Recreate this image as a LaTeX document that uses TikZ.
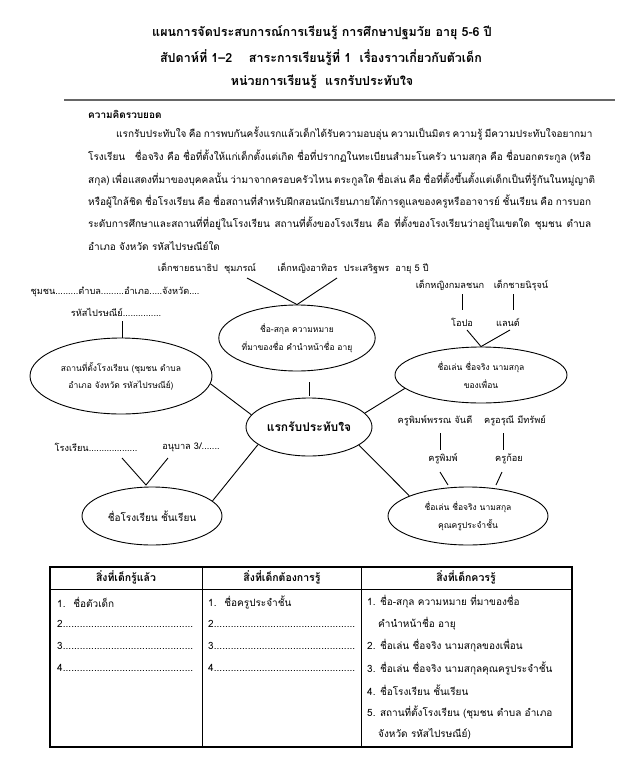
\documentclass[tikz,border=0pt]{standalone}
\usepackage{fontspec}
\setmainfont{Loma}[Script=Thai]
\usepackage{xcolor}
\usetikzlibrary{shapes}

\newcommand{\dotline}[2]{\makebox[#2][l]{#1\xleaders\hbox{.}\hfill}}

\begin{document}
\begin{tikzpicture}[x=1pt,y=-1pt,
  txt/.style={inner sep=0pt,font=\fontsize{10}{12}\selectfont},
  lab/.style={inner sep=0pt,font=\fontsize{9.2}{12}\selectfont},
  ttl/.style={inner sep=0pt,font=\fontsize{12.5}{14}\bfseries},
  bub/.style={draw,ellipse,inner sep=0pt,line width=0.9pt,align=center,
    font=\fontsize{8.5}{18}\selectfont},
  para/.style={txt,anchor=west}]
\useasboundingbox[fill=white] (0,0) rectangle (624,777);

% title
\node[ttl] (t1) at (322,33) {แผนการจัดประสบการณ์การเรียนรู้ การศึกษาปฐมวัย อายุ 5-6 ปี};
\node[ttl] (t2) at (321,58) {สัปดาห์ที่ 1–2 \quad สาระการเรียนรู้ที่ 1 \ เรื่องราวเกี่ยวกับตัวเด็ก};
\node[ttl] (t3) at (322,82) {หน่วยการเรียนรู้ \ แรกรับประทับใจ};
\draw[line width=2pt,black!60] (64,100) -- (615,100);

% concept
\node[para,font=\fontsize{10}{12}\bfseries] (hd) at (88,114) {ความคิดรวบยอด};
\node[para] (p1) at (116,134) {\makebox[472pt][s]{แรกรับประทับใจ คือ การพบกันครั้งแรกแล้วเด็กได้รับความอบอุ่น ความเป็นมิตร ความรู้ มีความประทับใจอยากมา}};
\node[para] (p2) at (88,157) {\makebox[503pt][s]{โรงเรียน \ \ ชื่อจริง คือ ชื่อที่ตั้งให้แก่เด็กตั้งแต่เกิด ชื่อที่ปรากฏในทะเบียนสำมะโนครัว นามสกุล คือ ชื่อบอกตระกูล (หรือ}};
\node[para] (p3) at (88,180) {\makebox[503pt][s]{สกุล) เพื่อแสดงที่มาของบุคคลนั้น ว่ามาจากครอบครัวไหน ตระกูลใด ชื่อเล่น คือ ชื่อที่ตั้งขึ้นตั้งแต่เด็กเป็นที่รู้กันในหมู่ญาติ}};
\node[para] (p4) at (88,202) {\makebox[503pt][s]{หรือผู้ใกล้ชิด ชื่อโรงเรียน คือ ชื่อสถานที่สำหรับฝึกสอนนักเรียนภายใต้การดูแลของครูหรืออาจารย์ ชั้นเรียน คือ การบอก}};
\node[para] (p5) at (88,224) {\makebox[503pt][s]{ระดับการศึกษาและสถานที่ที่อยู่ในโรงเรียน สถานที่ตั้งของโรงเรียน คือ ที่ตั้งของโรงเรียนว่าอยู่ในเขตใด ชุมชน ตำบล}};
\node[para] (p6) at (88,246) {อำเภอ จังหวัด รหัสไปรษณีย์ใด};

% mind map
\node[bub,minimum width=126pt,minimum height=58pt,font=\fontsize{12}{14}\bfseries] (core) at (309,427) {แรกรับประทับใจ};
\node[bub,minimum width=150pt,minimum height=66pt] (name) at (297,338) {ชื่อ-สกุล ความหมาย\\ที่มาของชื่อ คำนำหน้าชื่อ อายุ};
\node[bub,minimum width=182pt,minimum height=76pt,font=\fontsize{8.5}{17}\selectfont] (place) at (121,376) {สถานที่ตั้งโรงเรียน (ชุมชน ตำบล\\อำเภอ จังหวัด รหัสไปรษณีย์)};
\node[bub,minimum width=172pt,minimum height=56pt] (mate) at (481,375) {ชื่อเล่น ชื่อจริง นามสกุล\\ของเพื่อน};
\node[bub,minimum width=140pt,minimum height=58pt,font=\fontsize{10}{12}\selectfont] (school) at (152,516) {ชื่อโรงเรียน ชั้นเรียน};
\node[bub,minimum width=160pt,minimum height=58pt] (teach) at (468,516) {ชื่อเล่น ชื่อจริง นามสกุล\\คุณครูประจำชั้น};

\node[lab] (boy) at (207,268) {เด็กชายธนาธิป \ ชุมภรณ์};
\node[lab] (girl) at (353,268) {เด็กหญิงอาทิอร \ ประเสริฐพร \ อายุ 5 ปี};
\node[lab] (addr) at (115,292) {ชุมชน.........ตำบล.........อำเภอ.....จังหวัด....};
\node[lab] (post) at (116,312) {รหัสไปรษณีย์...............};
\node[lab] (f1) at (450,285) {เด็กหญิงกมลชนก};
\node[lab] (f2) at (521,285) {เด็กชายนิรุจน์};
\node[lab] (n1) at (462,322) {โอปอ};
\node[lab] (n2) at (508,322) {แลนด์};
\node[lab] (sch) at (96,447) {โรงเรียน...................};
\node[lab] (cls) at (191,447) {อนุบาล 3/.......};
\node[lab] (k1) at (435,421) {ครูพิมพ์พรรณ จันดี};
\node[lab] (k2) at (515,421) {ครูอรุณี มีทรัพย์};
\node[lab] (m1) at (443,459) {ครูพิมพ์};
\node[lab] (m2) at (509,459) {ครูก้อย};

% free ends
\coordinate (boy-r) at (247,278);
\coordinate (girl-l) at (337,278);
\coordinate (f1-b) at (462,294);
\coordinate (f2-b) at (513,294);
\coordinate (n1-t) at (462,310);
\coordinate (n2-t) at (513,310);
\coordinate (n1-b) at (467,330);
\coordinate (n2-b) at (510,330);
\coordinate (k1-b) at (440,433);
\coordinate (k2-b) at (503,433);
\coordinate (m1-t) at (440,450);
\coordinate (m2-t) at (503,450);
\coordinate (m1-b) at (440,472);
\coordinate (m2-b) at (502,472);
\coordinate (teach-l) at (448,485);
\coordinate (teach-r) at (496,485);
\coordinate (sch-b) at (122,458);
\coordinate (cls-b) at (168,458);
\coordinate (school-t) at (146,485);
\coordinate (post-b) at (122,321);
\coordinate (place-t) at (122,338);
\coordinate (name-b) at (309,382);

\begin{scope}[line width=0.9pt]
\draw (boy-r) -- (name.north) -- (girl-l);
\draw (name-b) -- ([yshift=2pt]core.north);
\draw (post-b) -- (place-t);
\draw (place.-5) -- (core.168);
\draw (core.199) -- (school.14);
\draw (core.14) -- (mate.190);
\draw (core.-20) -- (teach.161);
\draw (f1-b) -- (n1-t);
\draw (f2-b) -- (n2-t);
\draw (n1-b) -- (mate.north) -- (n2-b);
\draw (k1-b) -- (m1-t);
\draw (k2-b) -- (m2-t);
\draw (m1-b) -- (teach-l);
\draw (m2-b) -- (teach-r);
\draw (sch-b) -- (school-t) -- (cls-b);
\end{scope}

% table
\draw[line width=1.6pt] (50,567) rectangle (572,747);
\draw[line width=0.8pt] (50,589) -- (572,589) (202,567) -- (202,747) (361,567) -- (361,747);
\node[ttl,font=\fontsize{10.5}{12}\bfseries] (h1) at (126,577) {สิ่งที่เด็กรู้แล้ว};
\node[ttl,font=\fontsize{10.5}{12}\bfseries] (h2) at (282,577) {สิ่งที่เด็กต้องการรู้};
\node[ttl,font=\fontsize{10.5}{12}\bfseries] (h3) at (466,577) {สิ่งที่เด็กควรรู้};
\node[para] (a1) at (57,602) {1. \ ชื่อตัวเด็ก};
\node[para] (a2) at (57,624) {\dotline{2}{136pt}};
\node[para] (a3) at (57,646) {\dotline{3}{136pt}};
\node[para] (a4) at (57,668) {\dotline{4}{136pt}};
\node[para] (b1) at (208,602) {1. \ ชื่อครูประจำชั้น};
\node[para] (b2) at (208,624) {\dotline{2}{147pt}};
\node[para] (b3) at (208,646) {\dotline{3}{147pt}};
\node[para] (b4) at (208,668) {\dotline{4}{147pt}};
\node[para] (c1) at (367,602) {1. ชื่อ-สกุล ความหมาย ที่มาของชื่อ};
\node[para] (c1b) at (378,624) {คำนำหน้าชื่อ อายุ};
\node[para] (c2) at (367,646) {2. ชื่อเล่น ชื่อจริง นามสกุลของเพื่อน};
\node[para] (c3) at (367,668) {3. ชื่อเล่น ชื่อจริง นามสกุลคุณครูประจำชั้น};
\node[para] (c4) at (367,690) {4. ชื่อโรงเรียน ชั้นเรียน};
\node[para] (c5) at (367,712) {5. สถานที่ตั้งโรงเรียน (ชุมชน ตำบล อำเภอ};
\node[para] (c5b) at (378,734) {จังหวัด รหัสไปรษณีย์)};
\end{tikzpicture}
\end{document}
